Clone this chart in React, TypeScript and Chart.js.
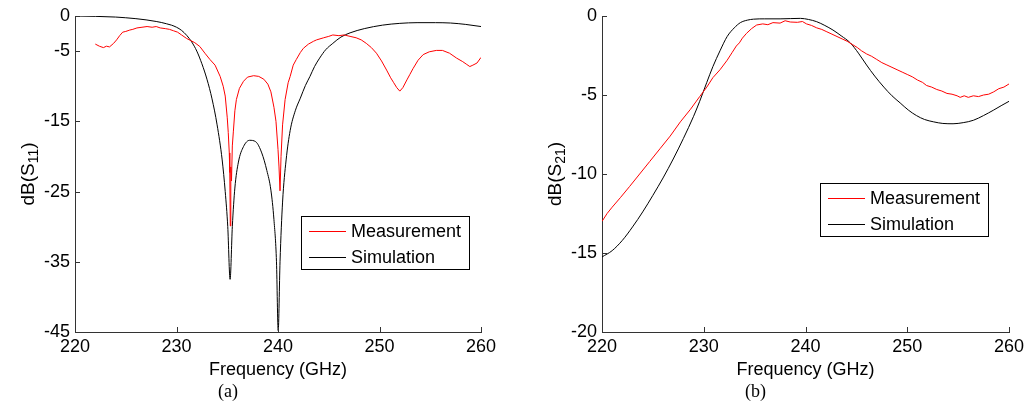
import React, { useEffect, useRef } from "react";
import { Chart, registerables } from "chart.js";

Chart.register(...registerables);

const SANS = "'Liberation Sans', Arial, Helvetica, sans-serif";
const SERIF = "'Liberation Serif', 'Times New Roman', serif";

// ---------- tick labels ----------
const freqTicks = [220, 230, 240, 250, 260];
const s11Ticks = [0, -5, -15, -25, -35, -45];
const s21Ticks = [0, -5, -10, -15, -20];
const seriesLabels = ["Measurement", "Simulation"];

// ---------- panel (a): S11 ----------
const s11MeasFreq = [
  222.0, 222.4, 222.8, 223.1, 223.4, 223.8, 224.1, 224.4, 224.7, 225.0, 225.4, 225.7, 226.1, 226.6,
  227.1, 227.6, 228.0, 228.4, 228.9, 229.3, 229.7, 230.1, 230.5, 231.0, 231.4, 231.8, 232.3, 232.8,
  233.3, 233.8, 234.3, 234.6, 234.8, 235.0, 235.1, 235.2, 235.25, 235.3, 235.35, 235.42, 235.5, 235.6,
  235.75, 235.9, 236.2, 236.6, 237.0, 237.6, 238.1, 238.6, 239.0, 239.3, 239.6, 239.8, 240.0, 240.1,
  240.2, 240.3, 240.45, 240.7, 241.0, 241.2, 241.5, 241.8, 242.2, 242.5, 243.0, 243.5, 243.8, 244.5,
  245.0, 245.4, 246.0, 246.5, 247.1, 247.7, 248.2, 248.7, 249.2, 249.7, 250.2, 250.7, 251.1, 251.4,
  251.7, 252.0, 252.3, 252.7, 253.0, 253.3, 253.8, 254.3, 254.9, 255.6, 256.2, 256.9, 257.6, 258.2,
  258.6, 258.9, 259.2, 259.6, 260.0,
];
const s11MeasDb = [
  -4.0, -4.3, -4.5, -4.3, -4.4, -3.9, -3.4, -2.8, -2.3, -2.2, -2.0, -1.9, -1.7, -1.6,
  -1.5, -1.6, -1.5, -1.7, -1.8, -1.9, -2.1, -2.3, -2.7, -3.2, -3.5, -3.8, -4.35, -5.3,
  -6.2, -7.0, -8.6, -10.0, -11.4, -14.5, -16.6, -19.5, -22.3, -29.9, -21.5, -23.5, -18.5, -16.5,
  -13.5, -11.9, -10.3, -9.3, -8.7, -8.5, -8.6, -9.0, -9.7, -10.8, -13.0, -15.0, -19.0, -21.5,
  -24.9, -20.0, -15.5, -11.9, -9.5, -8.6, -7.0, -6.2, -5.2, -4.6, -4.0, -3.6, -3.4, -3.1,
  -2.9, -2.7, -2.8, -2.7, -2.9, -3.1, -3.4, -3.9, -4.5, -5.3, -6.4, -7.7, -8.8, -9.5,
  -10.2, -10.7, -10.2, -9.1, -8.3, -7.5, -6.3, -5.5, -5.1, -4.9, -4.9, -5.3, -6.0, -6.5,
  -6.9, -7.2, -7.0, -6.7, -5.9,
];
const s11SimFreq = [
  220, 222, 224, 225, 226, 227, 228, 228.5, 229.0, 229.5, 230.0, 230.5, 231.0, 231.5, 232.0, 232.5,
  233.0, 233.5, 234.0, 234.5, 234.8, 235.05, 235.28, 235.5, 235.75, 236.1, 236.6, 237.2, 237.8,
  238.4, 238.9, 239.3, 239.6, 239.85, 240.02, 240.2, 240.45, 240.8, 241.2, 241.7, 242.2, 242.7,
  243.15, 243.6, 244.1, 244.7, 245.4, 246.2, 247.1, 248.5, 250.3, 252, 253.7, 255.5, 257, 258.5, 260,
];
const s11SimDb = [
  0, -0.05, -0.15, -0.25, -0.38, -0.55, -0.78, -0.92, -1.1, -1.3, -1.6, -2.05, -2.75, -3.7, -5.0, -6.8,
  -9.0, -11.8, -15.5, -20.5, -25, -30, -37.5, -30, -24.5, -20.8, -18.6, -17.7, -17.9,
  -19.5, -22, -24.8, -29, -35, -44.8, -35, -26.5, -20.5, -16.3, -13.5, -11.7, -9.9,
  -8.6, -7.2, -6.0, -4.8, -3.9, -3.0, -2.4, -1.8, -1.3, -1.05, -0.95, -0.95, -1.0, -1.2, -1.5,
];

// ---------- panel (b): S21 ----------
const s21MeasFreq = [
  220.0, 220.5, 221.0, 221.8, 222.7, 223.7, 224.7, 225.7, 226.7, 227.7, 228.7, 229.6, 230.3, 230.9,
  231.6, 232.3, 232.8, 233.2, 233.5, 233.8, 234.2, 234.7, 235.2, 235.8, 236.3, 236.8, 237.5, 238.0,
  238.5, 239.2, 239.7, 240.1, 240.6, 241.1, 241.6, 242.1, 242.6, 243.1, 243.6, 244.1, 244.6, 245.1,
  245.5, 246.0, 246.5, 247.0, 247.5, 248.0, 248.5, 249.0, 249.5, 250.0, 250.5, 251.0, 251.5, 251.9,
  252.4, 252.9, 253.4, 253.9, 254.4, 254.9, 255.2, 255.6, 256.0, 256.5, 257.0, 257.5, 258.0, 258.5,
  259.0, 259.5, 260.0,
];
const s21MeasDb = [
  -13.0, -12.5, -12.1, -11.5, -10.8, -10.0, -9.2, -8.4, -7.6, -6.7, -5.9, -5.1, -4.5, -3.9,
  -3.4, -2.8, -2.3, -1.9, -1.7, -1.4, -1.1, -0.8, -0.57, -0.5, -0.55, -0.42, -0.45, -0.3,
  -0.38, -0.4, -0.35, -0.5, -0.6, -0.75, -0.85, -1.0, -1.15, -1.3, -1.45, -1.6, -1.8, -2.0,
  -2.2, -2.4, -2.55, -2.75, -2.95, -3.1, -3.25, -3.4, -3.55, -3.7, -3.85, -4.05, -4.2, -4.4,
  -4.5, -4.65, -4.75, -4.9, -4.95, -5.05, -5.15, -5.05, -5.15, -5.05, -5.1, -5.0, -4.95, -4.8,
  -4.6, -4.5, -4.3,
];
const s21SimFreq = [
  220.0, 221.0, 222.0, 223.0, 224.0, 225.0, 226.0, 227.0, 228.0, 229.0, 229.6, 230.3, 230.9, 231.6,
  232.3, 233.0, 233.6, 234.3, 234.9, 236.0, 237.5, 239.5, 240.3, 241.1, 241.9, 242.7, 243.5, 244.4,
  245.2, 246.0, 246.8, 247.7, 248.5, 249.3, 250.1, 250.9, 251.7, 252.6, 253.5, 254.5, 255.5, 256.5,
  257.5, 258.5, 259.3, 260.0,
];
const s21SimDb = [
  -15.25, -14.85, -14.2, -13.35, -12.4, -11.35, -10.25, -9.05, -7.75, -6.35, -5.4, -4.2, -3.2, -2.2,
  -1.3, -0.75, -0.42, -0.26, -0.2, -0.18, -0.18, -0.15, -0.22, -0.36, -0.6, -0.89, -1.25, -1.7,
  -2.35, -3.1, -3.8, -4.5, -5.05, -5.5, -5.95, -6.3, -6.55, -6.7, -6.8, -6.82, -6.75, -6.6,
  -6.3, -5.95, -5.65, -5.4,
];

const toPoints = (xs: number[], ys: number[]) => xs.map((x, i) => ({ x, y: ys[i] }));

type PanelCfg = {
  canvasLeft: number;
  canvasWidth: number;
  yAxisWidth: number;
  padRight: number;
  yTicks: number[];
  yMin: number;
  yMax: number;
  sub: string;
  caption: string;
  legendX: number;
  legendY: number;
  measF: number[];
  measDb: number[];
  simF: number[];
  simDb: number[];
};

const CANVAS_H = 406;
const PAD_TOP = 16;
const X_AXIS_H = 74;
const FONT_SIZE = 18;

function makeDecor(cfg: PanelCfg) {
  return {
    id: "decor",
    afterDraw(chart: any) {
      const { ctx, chartArea: a, scales } = chart;
      ctx.save();
      // inward tick marks
      ctx.strokeStyle = "#333";
      ctx.lineWidth = 1;
      ctx.beginPath();
      for (const v of freqTicks) {
        const px = Math.round(scales.x.getPixelForValue(v)) + 0.5;
        ctx.moveTo(px, a.bottom);
        ctx.lineTo(px, a.bottom - 5);
      }
      for (const v of cfg.yTicks) {
        const py = Math.round(scales.y.getPixelForValue(v)) + 0.5;
        ctx.moveTo(a.left, py);
        ctx.lineTo(a.left + 5, py);
      }
      ctx.stroke();

      // x title
      ctx.fillStyle = "#000";
      ctx.font = `${FONT_SIZE}px ${SANS}`;
      ctx.textAlign = "center";
      ctx.textBaseline = "middle";
      ctx.fillText("Frequency (GHz)", (a.left + a.right) / 2, 370);

      // caption
      ctx.font = `${FONT_SIZE}px ${SERIF}`;
      ctx.fillText(cfg.caption, (a.left + a.right) / 2 - 50, 392);

      // y title with subscript
      ctx.save();
      ctx.translate(a.left - 41, (a.top + a.bottom) / 2);
      ctx.rotate(-Math.PI / 2);
      ctx.textAlign = "left";
      ctx.textBaseline = "alphabetic";
      const mainFont = `19px ${SANS}`;
      const subFont = `14px ${SANS}`;
      ctx.font = mainFont;
      const wMain = ctx.measureText("dB(S").width;
      const wClose = ctx.measureText(")").width;
      ctx.font = subFont;
      const wSub = ctx.measureText(cfg.sub).width;
      let x = -(wMain + wSub + wClose) / 2;
      ctx.font = mainFont;
      ctx.fillText("dB(S", x, 0);
      x += wMain;
      ctx.font = subFont;
      ctx.fillText(cfg.sub, x, 4);
      x += wSub;
      ctx.font = mainFont;
      ctx.fillText(")", x, 0);
      ctx.restore();

      // legend
      const lx = a.left + cfg.legendX;
      const ly = a.top + cfg.legendY;
      const lw = 168;
      const lh = 53;
      ctx.fillStyle = "#fff";
      ctx.fillRect(lx, ly, lw, lh);
      ctx.strokeStyle = "#000";
      ctx.strokeRect(lx + 0.5, ly + 0.5, lw, lh);
      chart.data.datasets.forEach((ds: any, i: number) => {
        const ry = Math.round(ly + 14.5 + i * 26) + 0.5;
        ctx.strokeStyle = ds.borderColor;
        ctx.lineWidth = 1;
        ctx.beginPath();
        ctx.moveTo(lx + 8, ry);
        ctx.lineTo(lx + 45, ry);
        ctx.stroke();
        ctx.fillStyle = "#000";
        ctx.font = `${FONT_SIZE}px ${SANS}`;
        ctx.textAlign = "left";
        ctx.textBaseline = "middle";
        ctx.fillText(ds.label, lx + 50, ry + 1);
      });
      ctx.restore();
    },
  };
}

function buildChart(canvas: HTMLCanvasElement, cfg: PanelCfg) {
  return new Chart(canvas, {
    type: "line",
    data: {
      datasets: [
        {
          label: seriesLabels[0],
          data: toPoints(cfg.measF, cfg.measDb),
          borderColor: "#ff0000",
          borderWidth: 1,
          pointRadius: 0,
          tension: 0,
        },
        {
          label: seriesLabels[1],
          data: toPoints(cfg.simF, cfg.simDb),
          borderColor: "#000000",
          borderWidth: 1,
          pointRadius: 0,
          cubicInterpolationMode: "monotone",
        },
      ],
    },
    options: {
      responsive: false,
      animation: false,
      devicePixelRatio: 1,
      parsing: false,
      normalized: true,
      layout: { padding: { left: 0, top: PAD_TOP, right: cfg.padRight, bottom: 0 } },
      plugins: { legend: { display: false }, tooltip: { enabled: false } },
      scales: {
        x: {
          type: "linear",
          min: 220,
          max: 260,
          afterBuildTicks: (s: any) => {
            s.ticks = freqTicks.map((v) => ({ value: v }));
          },
          afterFit: (s: any) => {
            s.height = X_AXIS_H;
          },
          grid: { display: false, drawTicks: false },
          border: { display: true, color: "#333", width: 1 },
          ticks: {
            color: "#000",
            padding: 4,
            maxRotation: 0,
            autoSkip: false,
            font: { family: SANS, size: FONT_SIZE },
          },
        },
        y: {
          type: "linear",
          min: cfg.yMin,
          max: cfg.yMax,
          afterBuildTicks: (s: any) => {
            s.ticks = cfg.yTicks.map((v) => ({ value: v }));
          },
          afterFit: (s: any) => {
            s.width = cfg.yAxisWidth;
          },
          grid: { display: false, drawTicks: false },
          border: { display: true, color: "#333", width: 1 },
          ticks: {
            color: "#000",
            padding: 5,
            autoSkip: false,
            font: { family: SANS, size: FONT_SIZE },
          },
        },
      },
    },
    plugins: [makeDecor(cfg)],
  } as any);
}

const panelA: PanelCfg = {
  canvasLeft: 0,
  canvasWidth: 515,
  yAxisWidth: 75,
  padRight: 34,
  yTicks: s11Ticks,
  yMin: -45,
  yMax: 0,
  sub: "11",
  caption: "(a)",
  legendX: 226,
  legendY: 200,
  measF: s11MeasFreq,
  measDb: s11MeasDb,
  simF: s11SimFreq,
  simDb: s11SimDb,
};

const panelB: PanelCfg = {
  canvasLeft: 515,
  canvasWidth: 514,
  yAxisWidth: 87,
  padRight: 20,
  yTicks: s21Ticks,
  yMin: -20,
  yMax: 0,
  sub: "21",
  caption: "(b)",
  legendX: 218,
  legendY: 167,
  measF: s21MeasFreq,
  measDb: s21MeasDb,
  simF: s21SimFreq,
  simDb: s21SimDb,
};

export default function App() {
  const refA = useRef<HTMLCanvasElement | null>(null);
  const refB = useRef<HTMLCanvasElement | null>(null);

  useEffect(() => {
    const charts: Chart[] = [];
    if (refA.current) charts.push(buildChart(refA.current, panelA));
    if (refB.current) charts.push(buildChart(refB.current, panelB));
    return () => charts.forEach((c) => c.destroy());
  }, []);

  return (
    <div style={{ position: "absolute", left: 0, top: 0, width: 1029, height: CANVAS_H, background: "#fff" }}>
      <canvas
        ref={refA}
        width={panelA.canvasWidth}
        height={CANVAS_H}
        style={{ position: "absolute", left: panelA.canvasLeft, top: 0, width: panelA.canvasWidth, height: CANVAS_H }}
      />
      <canvas
        ref={refB}
        width={panelB.canvasWidth}
        height={CANVAS_H}
        style={{ position: "absolute", left: panelB.canvasLeft, top: 0, width: panelB.canvasWidth, height: CANVAS_H }}
      />
    </div>
  );
}
